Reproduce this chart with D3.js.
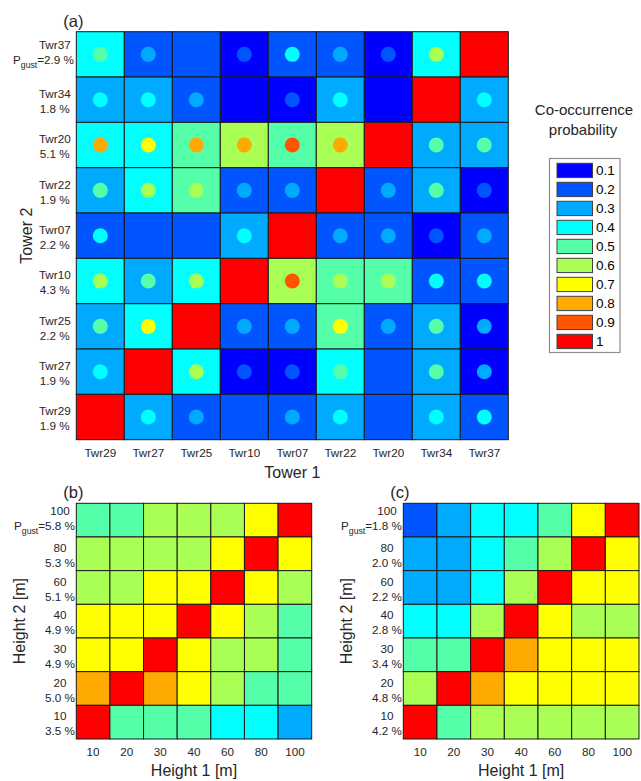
<!DOCTYPE html>
<html>
<head>
<meta charset="utf-8">
<script src="https://cdn.jsdelivr.net/npm/d3@7/dist/d3.min.js"></script>
<style>
  html, body { margin: 0; padding: 0; background: #fff; }
  svg { display: block; font-family: "Liberation Sans", Arial, sans-serif; }
</style>
</head>
<body>
<svg id="chart" width="641" height="781"></svg>
<script>
// Probability classes of the discrete colour scale
const levels = [0.1, 0.2, 0.3, 0.4, 0.5, 0.6, 0.7, 0.8, 0.9, 1];
const levelColors = ["#0000ff", "#0055ff", "#00aaff", "#00ffff", "#55ffaa",
                     "#aaff55", "#ffff00", "#ffaa00", "#ff5500", "#ff0000"];

// Panel (a): tower pairs
const towersX = ["Twr29", "Twr27", "Twr25", "Twr10", "Twr07", "Twr22", "Twr20", "Twr34", "Twr37"];
const towersY = ["Twr37", "Twr34", "Twr20", "Twr22", "Twr07", "Twr10", "Twr25", "Twr27", "Twr29"];
const towerPgust = ["2.9", "1.8", "5.1", "1.9", "2.2", "4.3", "2.2", "1.9", "1.9"];
// cell value, rows follow towersY, columns follow towersX
const towerCell = [
  [0.4, 0.2, 0.2, 0.1, 0.2, 0.2, 0.1, 0.4, 1],
  [0.3, 0.3, 0.2, 0.1, 0.1, 0.3, 0.1, 1, 0.3],
  [0.4, 0.4, 0.5, 0.6, 0.5, 0.6, 1, 0.3, 0.3],
  [0.3, 0.4, 0.5, 0.2, 0.2, 1, 0.2, 0.3, 0.1],
  [0.2, 0.2, 0.2, 0.3, 1, 0.2, 0.2, 0.1, 0.2],
  [0.4, 0.3, 0.4, 1, 0.6, 0.5, 0.5, 0.2, 0.2],
  [0.3, 0.4, 1, 0.2, 0.2, 0.5, 0.2, 0.3, 0.1],
  [0.3, 1, 0.4, 0.1, 0.1, 0.4, 0.2, 0.3, 0.1],
  [1, 0.3, 0.2, 0.2, 0.2, 0.3, 0.2, 0.3, 0.2]
];
// dot value drawn at each cell centre (null on the diagonal)
const towerDot = [
  [0.5, 0.3, 0.2, 0.2, 0.4, 0.3, 0.2, 0.6, null],
  [0.4, 0.4, 0.3, 0.1, 0.2, 0.4, 0.1, null, 0.4],
  [0.8, 0.7, 0.8, 0.8, 0.9, 0.8, null, 0.5, 0.5],
  [0.5, 0.6, 0.6, 0.3, 0.3, null, 0.3, 0.5, 0.2],
  [0.4, 0.2, 0.2, 0.4, null, 0.3, 0.3, 0.2, 0.3],
  [0.6, 0.5, 0.6, null, 0.9, 0.6, 0.6, 0.4, 0.4],
  [0.5, 0.7, null, 0.3, 0.3, 0.7, 0.3, 0.5, 0.3],
  [0.4, null, 0.6, 0.2, 0.2, 0.5, 0.2, 0.5, 0.3],
  [null, 0.4, 0.3, 0.2, 0.3, 0.4, 0.2, 0.4, 0.4]
];

// Panels (b) and (c): height pairs
const heightsX = ["10", "20", "30", "40", "60", "80", "100"];
const heightsY = ["100", "80", "60", "40", "30", "20", "10"];
const heightPgustB = ["5.8", "5.3", "5.1", "4.9", "4.9", "5.0", "3.5"];
const heightPgustC = ["1.8", "2.0", "2.2", "2.8", "3.4", "4.8", "4.2"];
const heightCellB = [
  [0.5, 0.5, 0.6, 0.6, 0.6, 0.7, 1],
  [0.6, 0.6, 0.6, 0.6, 0.7, 1, 0.7],
  [0.6, 0.6, 0.7, 0.7, 1, 0.7, 0.6],
  [0.7, 0.7, 0.7, 1, 0.7, 0.6, 0.5],
  [0.7, 0.7, 1, 0.7, 0.6, 0.6, 0.5],
  [0.8, 1, 0.8, 0.7, 0.6, 0.5, 0.5],
  [1, 0.5, 0.5, 0.5, 0.4, 0.4, 0.3]
];
const heightCellC = [
  [0.2, 0.3, 0.4, 0.4, 0.5, 0.7, 1],
  [0.3, 0.3, 0.4, 0.5, 0.6, 1, 0.7],
  [0.3, 0.3, 0.4, 0.6, 1, 0.7, 0.7],
  [0.4, 0.4, 0.6, 1, 0.7, 0.6, 0.6],
  [0.5, 0.5, 1, 0.8, 0.7, 0.7, 0.7],
  [0.6, 1, 0.8, 0.7, 0.7, 0.7, 0.7],
  [1, 0.5, 0.6, 0.6, 0.6, 0.6, 0.6]
];

const color = d3.scaleQuantize().domain([0.05, 1.05]).range(levelColors);
const textColor = "#262626";
const tickSize = 11.7;
const svg = d3.select("#chart");

function heatmap(opt) {
  const x = d3.scaleBand().domain(opt.xCats).range([opt.left, opt.right]);
  const y = d3.scaleBand().domain(opt.yCats).range([opt.top, opt.bottom]);
  const g = svg.append("g");

  const cells = [];
  opt.cells.forEach((row, i) => row.forEach((v, j) => {
    cells.push({ r: opt.yCats[i], c: opt.xCats[j], v, dot: opt.dots ? opt.dots[i][j] : null });
  }));

  g.selectAll("rect.cell").data(cells).join("rect")
    .attr("class", "cell")
    .attr("x", d => x(d.c)).attr("y", d => y(d.r))
    .attr("width", x.bandwidth()).attr("height", y.bandwidth())
    .attr("fill", d => color(d.v))
    .attr("stroke", "#1a1a1a").attr("stroke-width", 1);

  if (opt.dots) {
    g.selectAll("circle.dot").data(cells.filter(d => d.dot != null)).join("circle")
      .attr("class", "dot")
      .attr("cx", d => x(d.c) + x.bandwidth() / 2)
      .attr("cy", d => y(d.r) + y.bandwidth() / 2)
      .attr("r", 7.5)
      .attr("fill", d => color(d.dot));
  }

  // x tick labels
  g.selectAll("text.xt").data(opt.xCats).join("text")
    .attr("class", "xt")
    .attr("x", d => x(d) + x.bandwidth() / 2)
    .attr("y", opt.bottom + 17)
    .attr("text-anchor", "middle")
    .attr("font-size", tickSize).attr("fill", textColor)
    .text(d => d);

  // y tick labels: name on the first line, gust probability on the second
  const rowCenter = opt.left - opt.tickCenterOffset;
  opt.yCats.forEach((cat, i) => {
    const cy = y(cat) + y.bandwidth() / 2;
    if (i === 0) {
      g.append("text")
        .attr("x", rowCenter).attr("y", cy - 5)
        .attr("text-anchor", "middle")
        .attr("font-size", tickSize).attr("fill", textColor)
        .text(cat);
      const t = g.append("text")
        .attr("x", opt.left - opt.firstEndOffset).attr("y", cy + 9.5)
        .attr("text-anchor", "end")
        .attr("font-size", tickSize).attr("fill", textColor);
      t.append("tspan").text("P");
      t.append("tspan").attr("font-size", 8.7).attr("dy", 4).text("gust");
      t.append("tspan").attr("dy", -4).text("=" + opt.pgust[i] + " %");
    } else {
      g.append("text")
        .attr("x", rowCenter).attr("y", cy - 1.8)
        .attr("text-anchor", "middle")
        .attr("font-size", tickSize).attr("fill", textColor)
        .text(cat);
      g.append("text")
        .attr("x", rowCenter).attr("y", cy + 13.3)
        .attr("text-anchor", "middle")
        .attr("font-size", tickSize).attr("fill", textColor)
        .text(opt.pgust[i] + " %");
    }
  });

  // axis titles
  g.append("text")
    .attr("x", (opt.left + opt.right) / 2).attr("y", opt.bottom + opt.xTitleOffset)
    .attr("text-anchor", "middle")
    .attr("font-size", 16).attr("fill", textColor)
    .text(opt.xTitle);
  g.append("text")
    .attr("transform", `translate(${opt.yTitleX},${(opt.top + opt.bottom) / 2}) rotate(-90)`)
    .attr("text-anchor", "middle")
    .attr("font-size", 16).attr("fill", textColor)
    .text(opt.yTitle);

  // panel tag
  g.append("text")
    .attr("x", opt.left - 13).attr("y", opt.top - 5)
    .attr("font-size", 16.5).attr("fill", textColor)
    .text(opt.tag);
}

heatmap({
  left: 76.3, right: 508.3, top: 31.7, bottom: 439.7,
  xCats: towersX, yCats: towersY, cells: towerCell, dots: towerDot,
  pgust: towerPgust, tickCenterOffset: 21.5, firstEndOffset: 2.3,
  xTitle: "Tower 1", xTitleOffset: 38.5, yTitle: "Tower 2", yTitleX: 31.5, tag: "(a)"
});

heatmap({
  left: 76.3, right: 311.7, top: 503.3, bottom: 739,
  xCats: heightsX, yCats: heightsY, cells: heightCellB, dots: null,
  pgust: heightPgustB, tickCenterOffset: 16.3, firstEndOffset: 1.3,
  xTitle: "Height 1 [m]", xTitleOffset: 37, yTitle: "Height 2 [m]", yTitleX: 25, tag: "(b)"
});

heatmap({
  left: 403.3, right: 639, top: 503.3, bottom: 739,
  xCats: heightsX, yCats: heightsY, cells: heightCellC, dots: null,
  pgust: heightPgustC, tickCenterOffset: 16.3, firstEndOffset: 1.3,
  xTitle: "Height 1 [m]", xTitleOffset: 37, yTitle: "Height 2 [m]", yTitleX: 352, tag: "(c)"
});

// Colour legend
const legend = svg.append("g");
legend.append("text").attr("x", 584).attr("y", 115)
  .attr("text-anchor", "middle").attr("font-size", 15).attr("fill", textColor)
  .text("Co-occurrence");
legend.append("text").attr("x", 583).attr("y", 135)
  .attr("text-anchor", "middle").attr("font-size", 15).attr("fill", textColor)
  .text("probability");

// swatch top edge by class index
const ly = d3.scaleLinear().domain([0, levels.length - 1]).range([163.3, 334.3]);
const swH = 14.3;
legend.append("rect")
  .attr("x", 549.5).attr("y", 158.5).attr("width", 70.5).attr("height", 194)
  .attr("fill", "#fff").attr("stroke", "#8c8c8c").attr("stroke-width", 1.2);
legend.selectAll("rect.sw").data(levels).join("rect")
  .attr("class", "sw")
  .attr("x", 557).attr("y", (d, i) => ly(i))
  .attr("width", 35.5).attr("height", swH)
  .attr("fill", d => color(d))
  .attr("stroke", "#404040").attr("stroke-width", 1);
legend.selectAll("text.lv").data(levels).join("text")
  .attr("class", "lv")
  .attr("x", 596).attr("y", (d, i) => ly(i) + swH / 2 + 5)
  .attr("font-size", 13.5).attr("fill", "#000")
  .text(d => d3.format("~g")(d));
</script>
</body>
</html>
